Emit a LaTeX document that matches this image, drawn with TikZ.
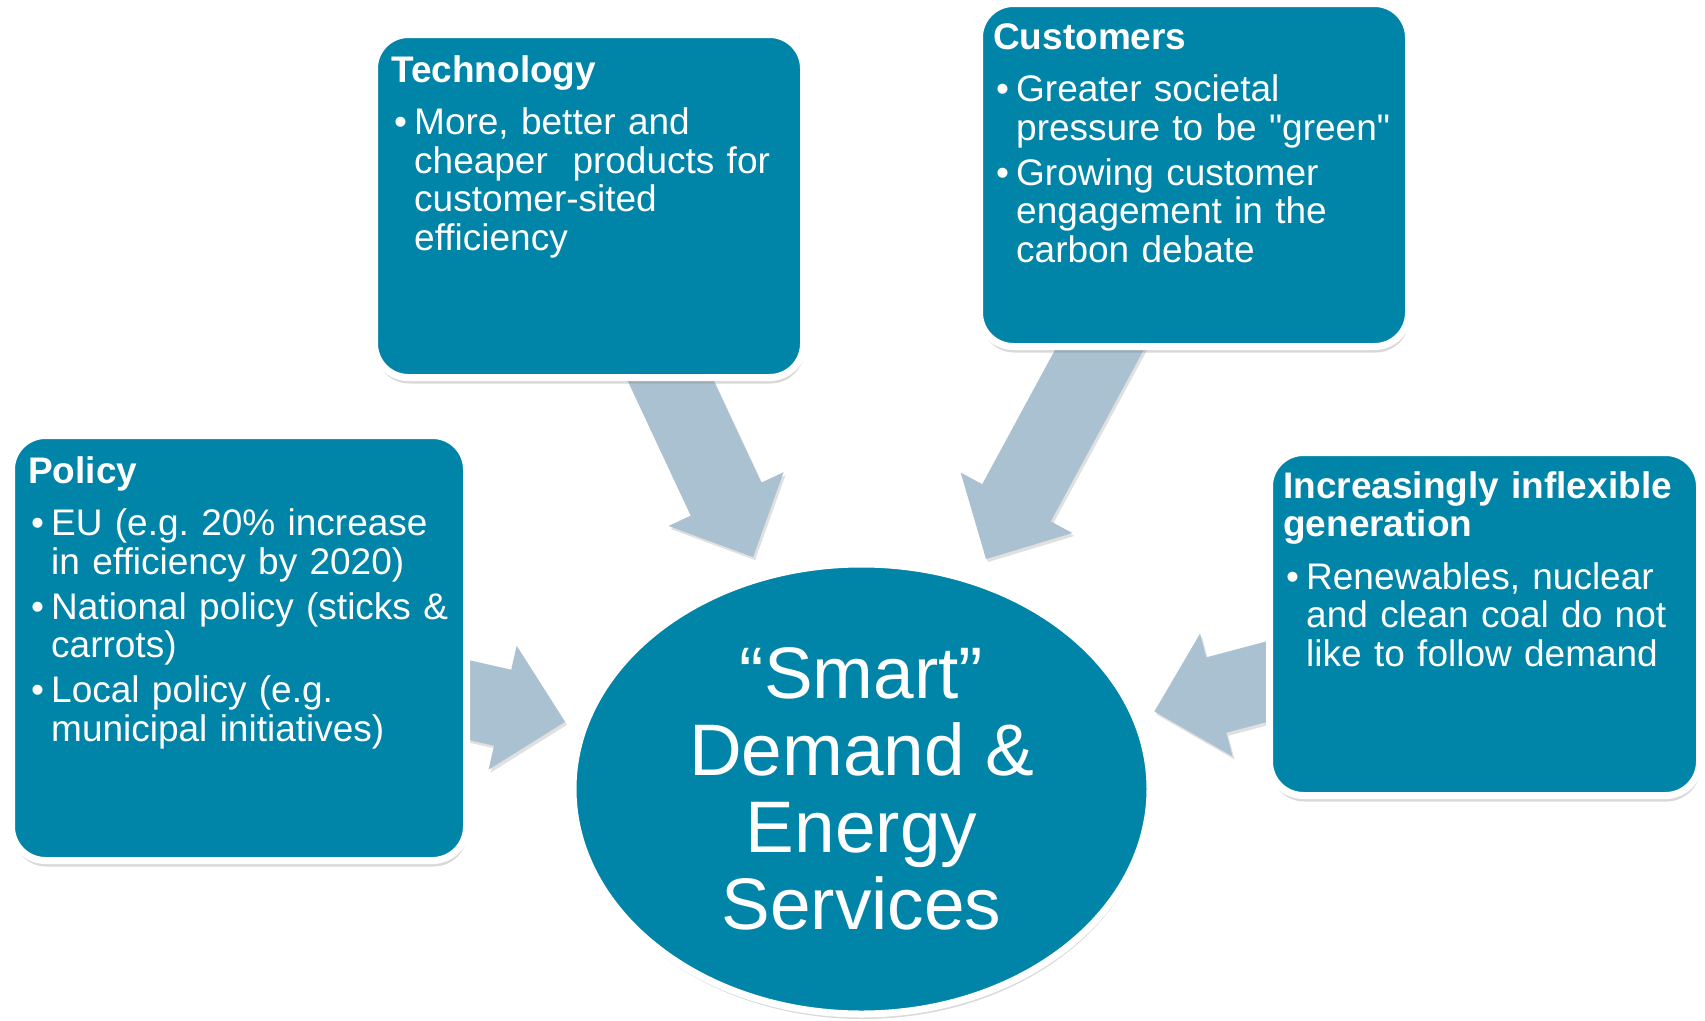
\documentclass[tikz,border=0pt]{standalone}
\usepackage{fontspec}
\setmainfont{Liberation Sans}
\usetikzlibrary{shapes.geometric,calc,shadows,backgrounds}

\definecolor{smartblue}{RGB}{0,132,168}
\definecolor{arrowgrey}{RGB}{169,193,209}

\newcommand{\boxtitle}[1]{{\bfseries #1\par}}
\newcommand{\nl}{\hfil\break}
\newcommand{\bitem}[1]{\par\hangindent=23pt\hangafter=1\noindent\makebox[23pt][l]{\hspace{3pt}\textbullet}#1\par}

\tikzset{
  driverbox/.style={rectangle, rounded corners=34pt, fill=smartblue, draw=white, line width=7pt,
    drop shadow={shadow xshift=1pt, shadow yshift=-6pt, opacity=0.3}},
  drivertext/.style={anchor=base west, inner sep=0pt, text=white, align=left,
    font=\fontsize{37}{38.5}\selectfont},
  hub/.style={ellipse, fill=smartblue, draw=white, line width=7pt, minimum width=577pt,
    minimum height=450pt, text=white, align=center, font=\fontsize{73}{77}\selectfont,
    drop shadow={shadow xshift=1pt, shadow yshift=-5pt, opacity=0.3}},
  pusharrow/.style={fill=arrowgrey,
    preaction={fill=black, opacity=0.12, transform canvas={shift={(2pt,-3pt)}}}}
}

\begin{document}
\begin{tikzpicture}[x=1pt, y=-1pt]
    \useasboundingbox (0,0) rectangle (1705,1020);

    % the four drivers
    \node[driverbox, minimum width=429pt, minimum height=343pt] (tech) at (589,206) {};
    \node[driverbox, minimum width=429pt, minimum height=343pt] (cust) at (1194,175) {};
    \node[driverbox, minimum width=455pt, minimum height=425pt] (policy) at (239,648) {};
    \node[driverbox, minimum width=430pt, minimum height=343pt] (gen) at (1484.5,624) {};

    % centre
    \node[hub] (smart) at (861.5,789) {“Smart”\\Demand \&\\Energy\\Services};

    % texts of the drivers
    \node[drivertext, text width=400pt] (techtext) at (391,82) {\boxtitle{Technology}\vspace{14pt}
        \bitem{More, better and\nl cheaper\ \ products for\nl customer-sited\nl efficiency}};
    \node[drivertext, text width=405pt] (custtext) at (993,49) {\boxtitle{Customers}\vspace{14pt}
        \bitem{Greater societal\nl pressure to be \textquotedbl{}green\textquotedbl{}}\vspace{6.5pt}
        \bitem{Growing customer\nl engagement in the\nl carbon debate}};
    \node[drivertext, text width=428pt] (policytext) at (28,483) {\boxtitle{Policy}\vspace{14pt}
        \bitem{EU (e.g.\ 20\% increase\nl in efficiency by 2020)}\vspace{6.5pt}
        \bitem{National policy (sticks \&\nl carrots)}\vspace{6.5pt}
        \bitem{Local policy (e.g.\nl municipal initiatives)}};
    \node[drivertext, text width=405pt] (gentext) at (1283,498) {\boxtitle{Increasingly inflexible\\generation}\vspace{14pt}
        \bitem{Renewables, nuclear\nl and clean coal do not\nl like to follow demand}};

    % block arrows, from the centre of each driver towards the hub
    \begin{scope}[on background layer]
        \foreach \src/\gap in {tech/256pt, cust/261.5pt, policy/304pt, gen/303pt} {
            \path ($(smart)!\gap!(\src)$) coordinate (tip)
                  ($(tip)!64pt!(\src)$) coordinate (neck);
            \fill[pusharrow] ($(\src)!39pt!90:(tip)$) -- ($(neck)!39pt!90:(tip)$)
                -- ($(neck)!63.5pt!90:(tip)$) -- (tip) -- ($(neck)!63.5pt!-90:(tip)$)
                -- ($(neck)!39pt!-90:(tip)$) -- ($(\src)!39pt!-90:(tip)$) -- cycle;
        }
    \end{scope}
\end{tikzpicture}
\end{document}
